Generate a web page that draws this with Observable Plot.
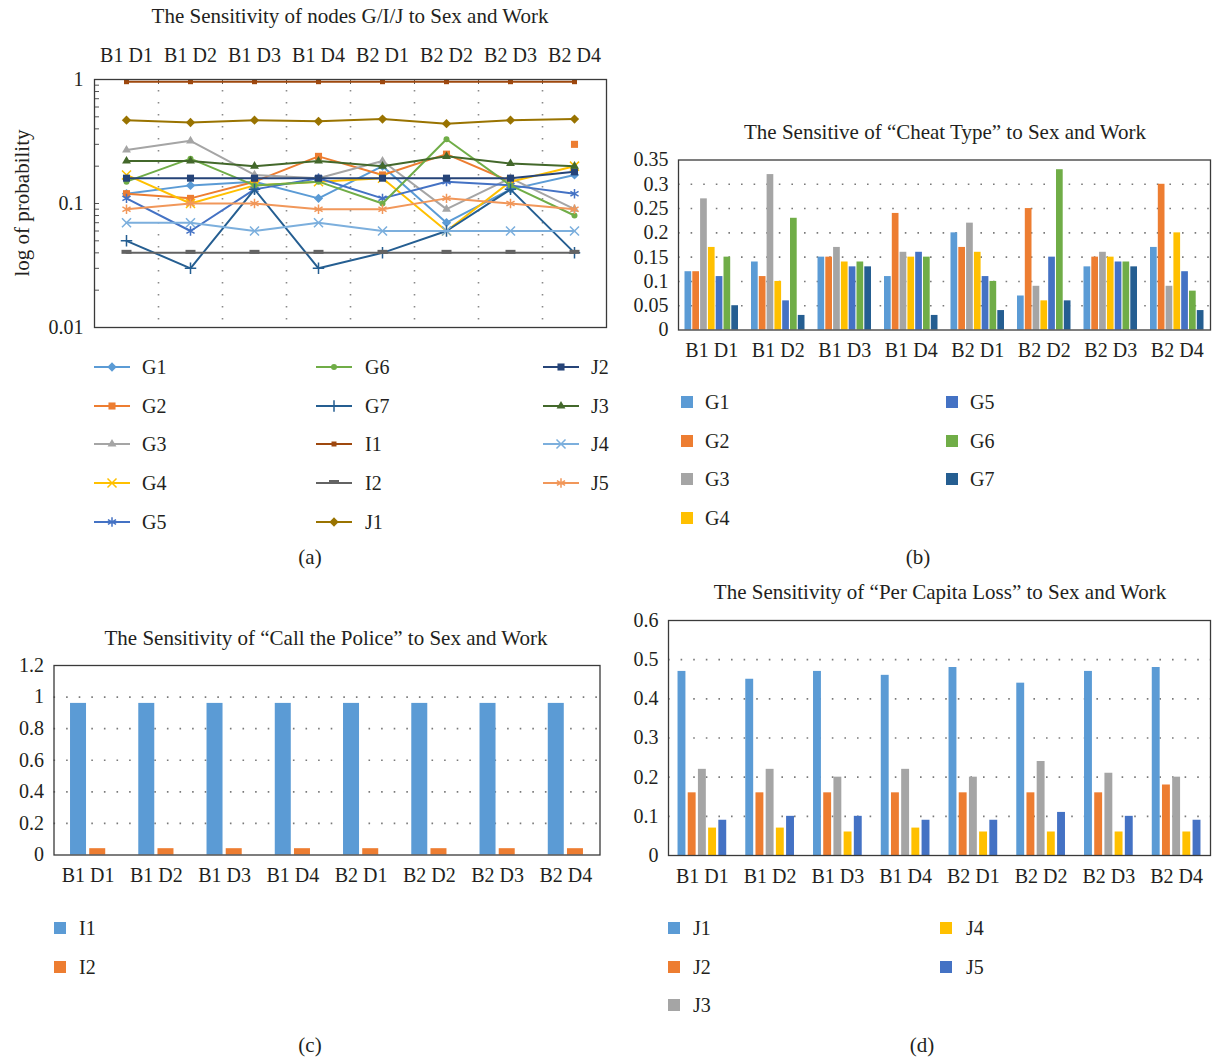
<!DOCTYPE html>
<html><head><meta charset="utf-8">
<script src="https://cdn.jsdelivr.net/npm/d3@7"></script>
<script src="https://cdn.jsdelivr.net/npm/@observablehq/plot@0.6"></script>
<style>
body{margin:0;background:#fff;}
#root{position:relative;width:1212px;height:1057px;font-family:"Liberation Serif",serif;color:#231f20;overflow:hidden;background:#fff;}
.abs{position:absolute;white-space:nowrap;font-size:21px;line-height:1;}
.ctr{transform:translate(-50%,-50%);}
.leg{position:absolute;display:flex;align-items:center;font-size:20px;line-height:1;transform:translateY(-50%);white-space:nowrap;}
.sq{display:inline-block;width:12px;height:12px;}
svg.plot{position:absolute;}
</style></head><body><div id="root"></div>
<script>
// ---------------- data ----------------
const categories = ["B1 D1","B1 D2","B1 D3","B1 D4","B2 D1","B2 D2","B2 D3","B2 D4"];
const G1 = [0.12,0.14,0.15,0.11,0.20,0.07,0.13,0.17];
const G2 = [0.12,0.11,0.15,0.24,0.17,0.25,0.15,0.30];
const G3 = [0.27,0.32,0.17,0.16,0.22,0.09,0.16,0.09];
const G4 = [0.17,0.10,0.14,0.15,0.16,0.06,0.15,0.20];
const G5 = [0.11,0.06,0.13,0.16,0.11,0.15,0.14,0.12];
const G6 = [0.15,0.23,0.14,0.15,0.10,0.33,0.14,0.08];
const G7 = [0.05,0.03,0.13,0.03,0.04,0.06,0.13,0.04];
const I1 = [0.96,0.96,0.96,0.96,0.96,0.96,0.96,0.96];
const I2 = [0.04,0.04,0.04,0.04,0.04,0.04,0.04,0.04];
const J1 = [0.47,0.45,0.47,0.46,0.48,0.44,0.47,0.48];
const J2 = [0.16,0.16,0.16,0.16,0.16,0.16,0.16,0.18];
const J3 = [0.22,0.22,0.20,0.22,0.20,0.24,0.21,0.20];
const J4 = [0.07,0.07,0.06,0.07,0.06,0.06,0.06,0.06];
const J5 = [0.09,0.10,0.10,0.09,0.09,0.11,0.10,0.09];

const lineSeriesNames = ["G1","G2","G3","G4","G5","G6","G7","I1","I2","J1","J2","J3","J4","J5"];
const lineSeriesValues = [G1,G2,G3,G4,G5,G6,G7,I1,I2,J1,J2,J3,J4,J5];
const lineColors = ["#5B9BD5","#ED7D31","#A5A5A5","#FFC000","#4472C4","#70AD47","#255E91","#9E480E","#636363","#997300","#264478","#43682B","#7CAFDD","#F1975A"];
// line gap in panel (a): G2 is not connected into B2 D4
const lineGaps = [{series:"G2", before:"B2 D4"}];

const yTicksA = [0.01, 0.1, 1];
const minorTicksA = [0.02,0.03,0.04,0.05,0.06,0.07,0.08,0.09,0.1,0.2,0.3,0.4,0.5,0.6,0.7,0.8,0.9];
const yTicksB = [0,0.05,0.1,0.15,0.2,0.25,0.3,0.35];
const yTicksC = [0,0.2,0.4,0.6,0.8,1,1.2];
const yTicksD = [0,0.1,0.2,0.3,0.4,0.5,0.6];

const barColors = ["#5B9BD5","#ED7D31","#A5A5A5","#FFC000","#4472C4","#70AD47","#255E91"];

// ---------------- helpers ----------------
const root = document.getElementById("root");
const FONT = "Liberation Serif";
const TICK_FS = "20px";
function place(svg, left, top){ svg.classList.add("plot"); svg.style.left = left+"px"; svg.style.top = top+"px"; root.appendChild(svg); }
function text(str, x, y, cls){ const d=document.createElement("div"); d.className="abs "+(cls||"ctr"); d.textContent=str; d.style.left=x+"px"; d.style.top=y+"px"; root.appendChild(d); return d; }

const symI1 = {draw(ctx){ ctx.rect(-2.5,-2.5,5,5); }};
const symI2 = {draw(ctx){ ctx.rect(-5,-3,10,4); }};
// symbol, size (area), filled?
const lineSymbols = {
  G1:[d3.symbolDiamond2,55,true], G2:[d3.symbolSquare,50,true], G3:[d3.symbolTriangle,34,true],
  G4:[d3.symbolTimes,55,false], G5:[d3.symbolAsterisk,62,false], G6:[d3.symbolCircle,28,true],
  G7:[d3.symbolPlus,45,false], I1:[symI1,20,true], I2:[symI2,20,true], J1:[d3.symbolDiamond2,55,true],
  J2:[d3.symbolSquare,50,true], J3:[d3.symbolTriangle,34,true], J4:[d3.symbolTimes,55,false], J5:[d3.symbolAsterisk,62,false]
};

// ---------------- panel (a) ----------------
{
  const W=620, H=340, ml=94, mr=14, mt=79, mb=13;
  const frameW = W-ml-mr, frameH = H-mt-mb, bw = frameW/categories.length;
  const marks = [
    Plot.tickX(categories.slice(0,-1), {x:d=>d, dx:bw/2, stroke:"#8a8a8a", strokeWidth:1.6, strokeDasharray:"1.6,10.4", strokeDashoffset:-11}),
    Plot.tickY(minorTicksA, {y:d=>d, insetRight:frameW-5, stroke:"#555", strokeWidth:1}),
    Plot.tickX(categories.slice(0,-1), {x:d=>d, dx:bw/2, insetBottom:frameH-5, stroke:"#555", strokeWidth:1}),
  ];
  lineSeriesNames.forEach((name, i) => {
    let seg = 0;
    const rows = categories.map((c,k) => {
      if (lineGaps.some(g => g.series===name && g.before===c)) seg++;
      return {cat:c, v:lineSeriesValues[i][k], seg:name+"-"+seg};
    });
    const col = lineColors[i];
    const [sym, size, filled] = lineSymbols[name];
    marks.push(Plot.line(rows, {x:"cat", y:"v", z:"seg", stroke:col, strokeWidth:2, curve:"linear"}));
    marks.push(Plot.dot(rows, {x:"cat", y:"v", symbol:sym, r:Math.sqrt(size/Math.PI),
      fill: filled ? col : "none", stroke: filled ? "none" : col, strokeWidth: filled ? 0 : 1.5}));
  });
  marks.push(Plot.frame({stroke:"#3a3a3a", strokeWidth:1.3}));
  marks.push(Plot.axisX({anchor:"top", tickSize:0, tickPadding:18, label:null}));
  marks.push(Plot.axisY({ticks:yTicksA, tickSize:0, tickPadding:11, tickFormat:d=>String(d), label:null}));
  const svg = Plot.plot({
    width:W, height:H, marginLeft:ml, marginRight:mr, marginTop:mt, marginBottom:mb,
    x:{type:"band", domain:categories, padding:0, round:false, axis:null},
    y:{type:"log", domain:[0.01,1], axis:null},
    style:{fontFamily:FONT, fontSize:TICK_FS, color:"#231f20", background:"transparent", overflow:"visible"},
    marks
  });
  place(svg, 0, 0);
  text("The Sensitivity of nodes G/I/J to Sex and Work", 350, 16);
  const yl = text("log of probability", 22, 203);
  yl.style.transform = "translate(-50%,-50%) rotate(-90deg)";
  text("(a)", 310, 557);

  // legend (a)
  const cols = [[94,142],[316,365],[543,591]];
  const rowsY = [367,406,444,483,522];
  lineSeriesNames.forEach((name,i) => {
    const c = Math.floor(i/5), r = i%5;
    const [sym,size,filled] = lineSymbols[name];
    const col = lineColors[i];
    const item = document.createElement("div");
    item.className = "leg";
    item.style.left = cols[c][0]+"px"; item.style.top = rowsY[r]+"px";
    const ns = "http://www.w3.org/2000/svg";
    const s = document.createElementNS(ns,"svg");
    s.setAttribute("width", 36); s.setAttribute("height", 16);
    s.style.overflow = "visible";
    const ln = document.createElementNS(ns,"line");
    ln.setAttribute("x1",0); ln.setAttribute("x2",36); ln.setAttribute("y1",8); ln.setAttribute("y2",8);
    ln.setAttribute("stroke", col); ln.setAttribute("stroke-width", 2);
    s.appendChild(ln);
    const p = document.createElementNS(ns,"path");
    p.setAttribute("d", d3.symbol(sym, size)());
    p.setAttribute("transform","translate(18,8)");
    p.setAttribute("fill", filled ? col : "none");
    p.setAttribute("stroke", filled ? "none" : col);
    p.setAttribute("stroke-width", 1.5);
    s.appendChild(p);
    item.appendChild(s);
    const t = document.createElement("span");
    t.textContent = name;
    t.style.marginLeft = (cols[c][1]-cols[c][0]-36)+"px";
    item.appendChild(t);
    root.appendChild(item);
  });
}

// ---------------- bar panels ----------------
function barPanel({seriesValues, colors, yDomain, yTicks, W, H, ml, mr, mt, mb, slot, barW, left, top}) {
  const frameW = W-ml-mr, bw = frameW/categories.length, n = seriesValues.length;
  const marks = [
    Plot.gridY(yTicks.slice(1,-1), {stroke:"#7a7a7a", strokeOpacity:1, strokeWidth:1.6, strokeDasharray:"1.6,11"})
  ];
  seriesValues.forEach((vals,i) => {
    const rows = categories.map((c,k)=>({cat:c, v:vals[k]}));
    const l = bw/2 + (i-(n-1)/2)*slot - barW/2;
    marks.push(Plot.barY(rows, {x:"cat", y:"v", fill:colors[i], insetLeft:l, insetRight:bw-l-barW}));
  });
  marks.push(Plot.frame({stroke:"#3a3a3a", strokeWidth:1.3}));
  marks.push(Plot.axisX({anchor:"bottom", tickSize:0, tickPadding:13, label:null}));
  marks.push(Plot.axisY({ticks:yTicks, tickSize:0, tickPadding:10, tickFormat:d=>String(d), label:null}));
  const svg = Plot.plot({
    width:W, height:H, marginLeft:ml, marginRight:mr, marginTop:mt, marginBottom:mb,
    x:{type:"band", domain:categories, padding:0, round:false, axis:null},
    y:{domain:yDomain, axis:null},
    style:{fontFamily:FONT, fontSize:TICK_FS, color:"#231f20", background:"transparent", overflow:"visible"},
    marks
  });
  place(svg, left, top);
}
function squareLegend(names, colors, positions){
  names.forEach((name,i)=>{
    const [sx, tx, y] = positions[i];
    const item = document.createElement("div");
    item.className="leg"; item.style.left = sx+"px"; item.style.top = y+"px";
    const sq = document.createElement("span"); sq.className="sq"; sq.style.background = colors[i];
    const t = document.createElement("span"); t.textContent = name; t.style.marginLeft = (tx-sx-12)+"px";
    item.appendChild(sq); item.appendChild(t); root.appendChild(item);
  });
}

// panel (b)
barPanel({seriesValues:[G1,G2,G3,G4,G5,G6,G7], colors:barColors, yDomain:[0,0.35], yTicks:yTicksB,
  W:592, H:225, ml:58, mr:2, mt:19.5, mb:35.5, slot:7.8, barW:6.7, left:620, top:140});
text("The Sensitive of \u201cCheat Type\u201d to Sex and Work", 945, 132);
text("(b)", 918, 557);
squareLegend(["G1","G2","G3","G4","G5","G6","G7"], barColors,
  [[681,705,402],[681,705,441],[681,705,479],[681,705,518],[946,970,402],[946,970,441],[946,970,479]]);

// panel (c)
barPanel({seriesValues:[I1,I2], colors:barColors.slice(0,2), yDomain:[0,1.2], yTicks:yTicksC,
  W:610, H:240, ml:53.5, mr:10.5, mt:15, mb:35.5, slot:19.2, barW:16, left:0, top:650});
text("The Sensitivity of \u201cCall the Police\u201d to Sex and Work", 326, 638);
text("(c)", 310, 1045);
squareLegend(["I1","I2"], barColors.slice(0,2), [[54,79,928],[54,79,967]]);

// panel (d)
barPanel({seriesValues:[J1,J2,J3,J4,J5], colors:barColors.slice(0,5), yDomain:[0,0.6], yTicks:yTicksD,
  W:592, H:290, ml:48, mr:2, mt:20, mb:35, slot:10.2, barW:7.9, left:620, top:600});
text("The Sensitivity of \u201cPer Capita Loss\u201d to Sex and Work", 940, 592);
text("(d)", 922, 1045);
squareLegend(["J1","J2","J3","J4","J5"], barColors.slice(0,5),
  [[668,693,928],[668,693,967],[668,693,1005],[940,966,928],[940,966,967]]);
</script>
</body></html>
